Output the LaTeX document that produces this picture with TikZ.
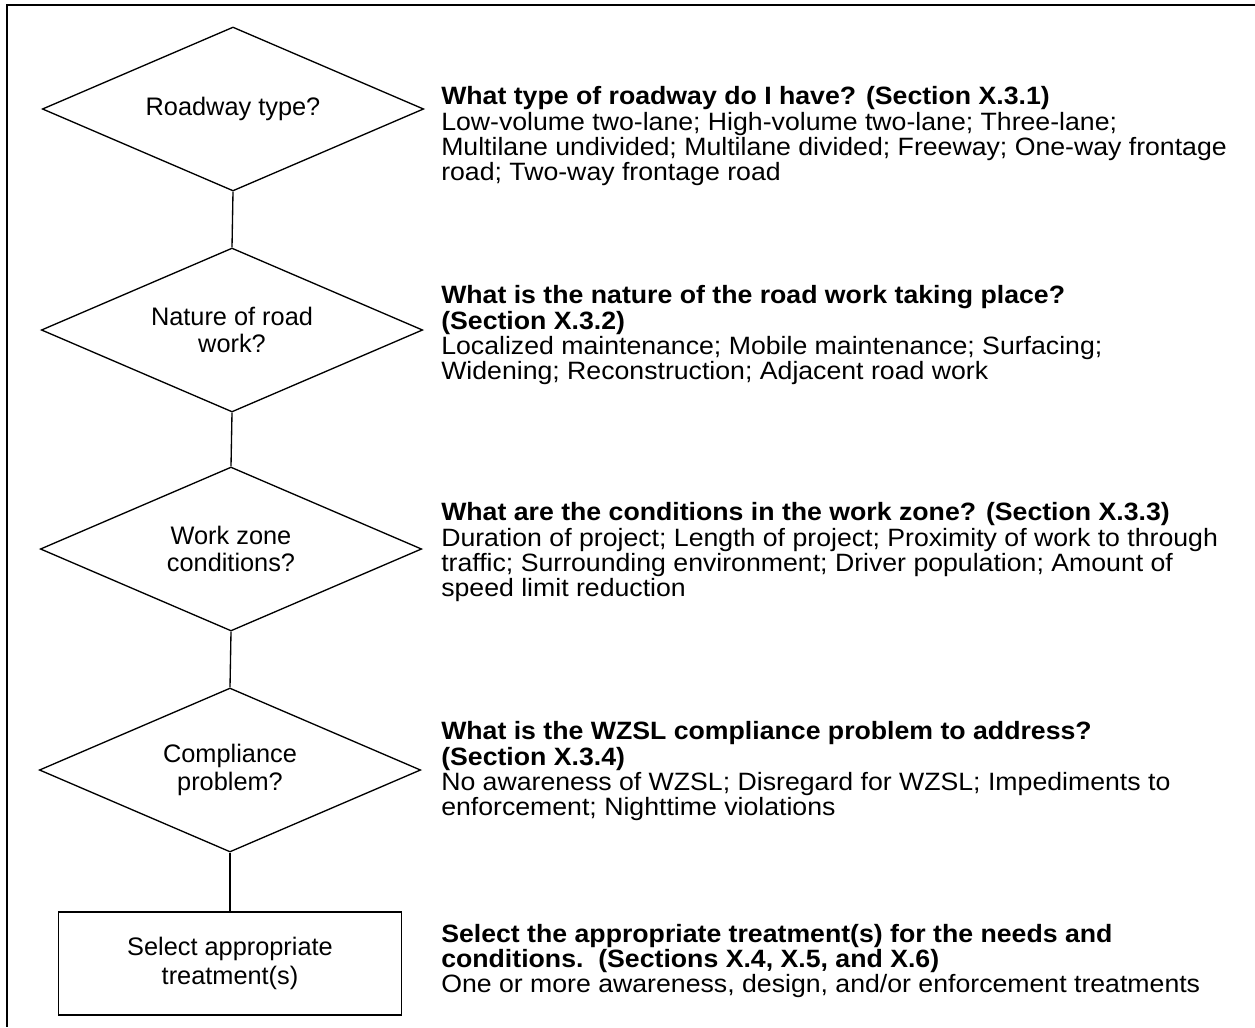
\documentclass[tikz,border=0pt]{standalone}
\usepackage{fontspec}
\setmainfont{Liberation Sans}
\usetikzlibrary{shapes.geometric}
\newcommand{\infoblock}[1]{\scalebox{1}[0.94]{\begin{tabular}{@{}l@{}}#1\end{tabular}}}
\begin{document}
\begin{tikzpicture}[x=0.75pt,y=-0.75pt,
  every node/.style={font=\fontsize{20}{18.6}\selectfont},
  decision/.style={draw, line width=1pt, shape=diamond, aspect=2.33, inner sep=0pt,
    minimum width=286pt, minimum height=123pt, align=center,
    font=\fontsize{19}{20.5}\selectfont},
  actionbox/.style={draw, line width=1pt, rectangle, inner sep=0pt,
    minimum width=257.25pt, minimum height=77.25pt, align=center,
    font=\fontsize{19}{22}\selectfont},
  info/.style={anchor=west, inner sep=0pt},
  link/.style={line width=1pt}]
\useasboundingbox (0,0) rectangle (1255,1027);
\fill[white] (0,0) rectangle (1255,1027);
\draw[line width=1.5pt] (1255,5) -- (7,5) -- (7,1027);

\node[decision] (d1) at (233,109) {Roadway type?};
\node[decision] (d2) at (232,330) {Nature of road\\work?};
\node[decision] (d3) at (231,549) {Work zone\\conditions?};
\node[decision] (d4) at (230,770) {Compliance\\problem?};
\node[actionbox] (b5) at (230,963.5) {Select appropriate\\treatment(s)};

\draw[link] (d1.south) -- (d2.north);
\draw[link] (d2.south) -- (d3.north);
\draw[link] (d3.south) -- (d4.north);
\draw[link] (d4.south) -- (b5.north);

\node[info] (t1) at (441,137) {\infoblock{\textbf{What type of roadway do I have? (Section X.3.1)}\\
Low-volume two-lane; High-volume two-lane; Three-lane;\\
Multilane undivided; Multilane divided; Freeway; One-way frontage\\
road; Two-way frontage road}};
\node[info] (t2) at (441,336) {\infoblock{\textbf{What is the nature of the road work taking place?}\\
\textbf{(Section X.3.2)}\\
Localized maintenance; Mobile maintenance; Surfacing;\\
Widening; Reconstruction; Adjacent road work}};
\node[info] (t3) at (441,553) {\infoblock{\textbf{What are the conditions in the work zone? (Section X.3.3)}\\
Duration of project; Length of project; Proximity of work to through\\
traffic; Surrounding environment; Driver population; Amount of\\
speed limit reduction}};
\node[info] (t4) at (441,772) {\infoblock{\textbf{What is the WZSL compliance problem to address?}\\
\textbf{(Section X.3.4)}\\
No awareness of WZSL; Disregard for WZSL; Impediments to\\
enforcement; Nighttime violations}};
\node[info] (t5) at (441,962) {\infoblock{\textbf{Select the appropriate treatment(s) for the needs and}\\
\textbf{conditions.\ \ (Sections X.4, X.5, and X.6)}\\
One or more awareness, design, and/or enforcement treatments}};
\end{tikzpicture}
\end{document}
